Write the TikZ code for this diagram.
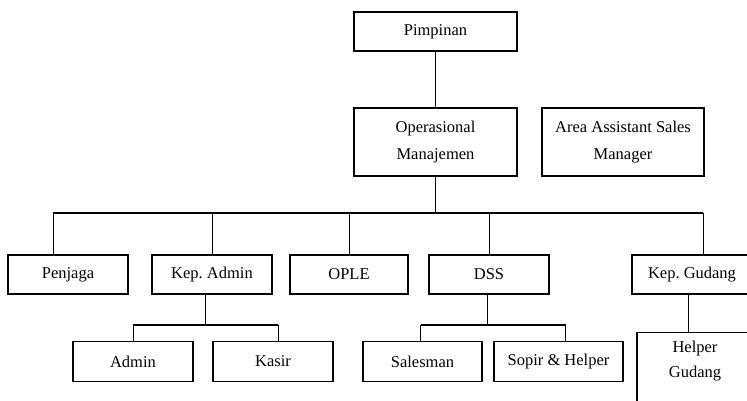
\documentclass[tikz,border=0pt]{standalone}
\usepackage{fontspec}
\setmainfont{Liberation Serif}
\usetikzlibrary{positioning}
\frenchspacing

\begin{document}
\begin{tikzpicture}[x=1pt,y=-1pt,
    unit/.style={draw, line width=1.3pt, inner sep=2pt, minimum height=39pt,
      align=center, font=\fontsize{16.5}{27}\selectfont},
    link/.style={line width=1pt},
    bus/.style={line width=2pt}]
      \useasboundingbox (0,0) rectangle (747,400);
      \clip (0,0) rectangle (747,400);
      \node (pim) at (435.5,31.5) [unit, minimum width=163pt] {Pimpinan};
      \node (ops) at (435.5,142) [unit, minimum width=163pt, minimum height=68pt] {Operasional\\Manajemen};
      \node (aasm) at (623,142) [unit, minimum width=162pt, minimum height=68pt] {Area Assistant Sales\\Manager};
      \foreach \name/\x/\w/\txt in {penjaga/68/120/Penjaga, kepadm/212/120/Kep. Admin,
          ople/349/118/OPLE, dss/489/120/DSS, kepgud/692/120/Kep. Gudang} {
        \node (\name) at (\x,274.5) [unit, minimum width=\w pt] {\txt};
      }
      \foreach \name/\x/\w/\txt in {admin/133/120/Admin, kasir/273/120/Kasir,
          salesman/422.5/119/Salesman, sopir/558.5/129/Sopir \& Helper} {
        \node (\name) at (\x,361.5) [unit, minimum width=\w pt, minimum height=40pt] {\txt};
      }
      \node (helpgud) at (695,332) [unit, anchor=north, minimum width=116pt,
          inner ysep=8pt, text depth=40pt, font=\fontsize{16.5}{25}\selectfont] {Helper\\Gudang};
      % top
      \draw[link] (pim) -- (ops);
      \coordinate (busL) at (53,213);
      \coordinate (busR) at (703,213);
      \draw[link] (ops.south) -- (ops.south |- busL);
      \draw[bus] (busL) -- (busR);
      \draw[link] (busL) -- (busL |- penjaga.north);
      \draw[link] (busR) -- (busR |- kepgud.north);
      \foreach \n in {kepadm, ople, dss}
        \draw[link] (\n.north) -- (\n.north |- busL);
      % second level
      \draw[link] ([xshift=-7pt]kepadm.south) -- ++(0,30) coordinate (admbus);
      \draw[bus] (admin.north |- admbus) -- ([xshift=5pt]kasir.north |- admbus);
      \draw[link] (admin.north) -- (admin.north |- admbus);
      \draw[link] ([xshift=5pt]kasir.north) -- ([xshift=5pt]kasir.north |- admbus);
      \draw[link] ([xshift=-2pt]dss.south) -- ++(0,30) coordinate (dssbus);
      \draw[bus] ([xshift=-2pt]salesman.north |- dssbus) -- ([xshift=7pt]sopir.north |- dssbus);
      \draw[link] ([xshift=-2pt]salesman.north) -- ([xshift=-2pt]salesman.north |- dssbus);
      \draw[link] ([xshift=7pt]sopir.north) -- ([xshift=7pt]sopir.north |- dssbus);
      \draw[link] ([xshift=-4pt]kepgud.south) -- ([xshift=-4pt]kepgud.south |- helpgud.north);
\end{tikzpicture}
\end{document}
